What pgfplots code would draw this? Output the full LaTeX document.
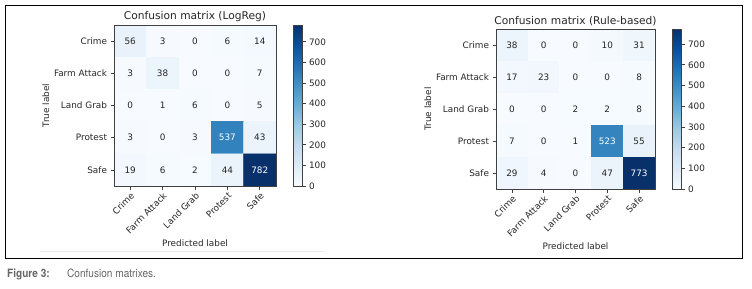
\documentclass[border=0pt]{standalone}
\usepackage{pgfplots}
\pgfplotsset{compat=1.18}
\usepackage{pgfplotstable}
\usepackage{fontspec}
\setmainfont{DejaVu Sans}
\newfontfamily\capfont[FakeStretch=0.88]{TeX Gyre Heros}

\pgfplotstableread{
x y c
0 0 56
1 0 3
2 0 0
3 0 6
4 0 14
0 1 3
1 1 38
2 1 0
3 1 0
4 1 7
0 2 0
1 2 1
2 2 6
3 2 0
4 2 5
0 3 3
1 3 0
2 3 3
3 3 537
4 3 43
0 4 19
1 4 6
2 4 2
3 4 44
4 4 782
}\tA

\pgfplotstableread{
x y c
0 0 38
1 0 0
2 0 0
3 0 10
4 0 31
0 1 17
1 1 23
2 1 0
3 1 0
4 1 8
0 2 0
1 2 0
2 2 2
3 2 2
4 2 8
0 3 7
1 3 0
2 3 1
3 3 523
4 3 55
0 4 29
1 4 4
2 4 0
3 4 47
4 4 773
}\tB

\newcommand\lblfont{\fontsize{8.9}{10}\selectfont}
\definecolor{txt}{HTML}{262626}

\pgfplotsset{
  cm/.style={
    scale only axis,
    enlargelimits=false,
    xmin=-0.5, xmax=4.5, ymin=-0.5, ymax=4.5,
    y dir=reverse,
    xtick={0,...,4}, ytick={0,...,4},
    xticklabels={Crime,Farm Attack,Land Grab,Protest,Safe},
    yticklabels={Crime,Farm Attack,Land Grab,Protest,Safe},
    xticklabel style={rotate=45, anchor=north east, inner sep=1.5bp},
    tick label style={font=\lblfont, text=txt},
    label style={font=\lblfont, text=txt},
    title style={font=\fontsize{10.7}{12}\selectfont, text=txt, inner sep=2bp, yshift=-5bp},
    tick pos=left, tick align=outside,
    major tick length=3.5bp,
    tick style={black!75, line width=0.8bp},
    axis line style={black!75, line width=0.8bp},
    colormap={blues}{rgb255=(247,251,255) rgb255=(222,235,247) rgb255=(198,219,239) rgb255=(158,202,225) rgb255=(107,174,214) rgb255=(66,146,198) rgb255=(33,113,181) rgb255=(8,81,156) rgb255=(8,48,107)},
    point meta min=0,
    xlabel={Predicted label}, ylabel={True label},
    ylabel style={xshift=0bp, yshift=-2bp},
    axis on top,
    colorbar,
    colorbar style={
      width=9bp,
      at={(parent axis.north east)}, anchor=north west, xshift=8.5bp,
      ytick={0,100,...,700},
      yticklabel pos=right,
      ytick pos=right,
      tick align=outside,
      major tick length=3.5bp,
      tick style={black!75, line width=0.8bp},
      axis line style={black!75, line width=0.8bp},
      tick label style={font=\lblfont, text=txt},
      yticklabel style={/pgf/number format/assume math mode=true, /pgf/number format/1000 sep={}},
    },
  },
  cmtext/.style={
    draw=none, mark=none, forget plot,
    point meta=explicit,
    nodes near coords={\pgfmathprintnumber{\pgfplotspointmeta}},
    nodes near coords align={anchor=center},
    every node near coord/.append style={anchor=center, inner sep=0pt, font=\lblfont, text=#1,
      /pgf/number format/assume math mode=true},
  },
}

\begin{document}
\begin{tikzpicture}
\useasboundingbox (0,0) rectangle (752bp,289bp);
\draw[black, line width=0.9bp] (5.5bp,31bp) rectangle (742bp,283.5bp);
\draw[black!8, line width=0.8bp] (40bp,38bp) -- (325bp,38bp);

\begin{axis}[cm, at={(114bp,103bp)}, anchor=south west, width=162bp, height=161bp,
  title={Confusion matrix (LogReg)}]
  \addplot[matrix plot*, mesh/cols=5, point meta=explicit] table[x=x, y=y, meta=c] {\tA};
  \addplot[cmtext=txt, restrict expr to domain={\thisrow{c}}{-1:400}] table[x=x, y=y, meta=c] {\tA};
  \addplot[cmtext=white, restrict expr to domain={\thisrow{c}}{400:100000}] table[x=x, y=y, meta=c] {\tA};
\end{axis}

\begin{axis}[cm, at={(496bp,100bp)}, anchor=south west, width=159bp, height=160bp,
  title={Confusion matrix (Rule-based)}]
  \addplot[matrix plot*, mesh/cols=5, point meta=explicit] table[x=x, y=y, meta=c] {\tB};
  \addplot[cmtext=txt, restrict expr to domain={\thisrow{c}}{-1:400}] table[x=x, y=y, meta=c] {\tB};
  \addplot[cmtext=white, restrict expr to domain={\thisrow{c}}{400:100000}] table[x=x, y=y, meta=c] {\tB};
\end{axis}

\node[anchor=base west, inner sep=0pt, text=black!60, font=\capfont\bfseries\fontsize{11.5}{13}\selectfont] at (7bp,12bp) {Figure 3:};
\node[anchor=base west, inner sep=0pt, text=black!60, font=\capfont\fontsize{11.5}{13}\selectfont] at (67bp,12bp) {Confusion matrixes.};
\end{tikzpicture}
\end{document}
